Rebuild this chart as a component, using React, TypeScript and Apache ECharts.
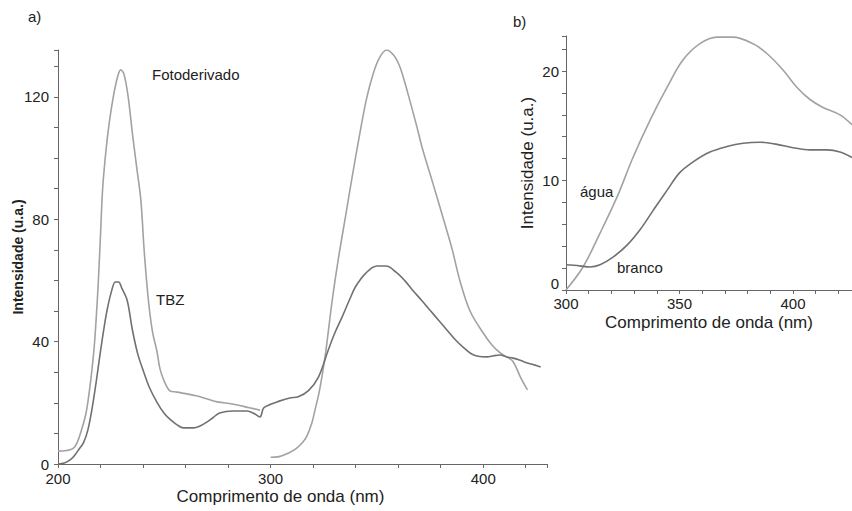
import React, { useEffect, useRef } from "react";
import * as echarts from "echarts";

// ---- Panel a) : TBZ and Fotoderivado (excitation + emission) ----
const fotoExcWl = [200, 204, 207, 209, 211, 213, 214, 215.5, 217, 218, 219, 220, 221, 222.5, 224, 226, 228, 229.5, 231, 233, 235, 237, 239, 240.5, 242.5, 244.5, 246.5, 248, 250, 252.5, 256, 260, 265, 270, 275, 282, 290, 295];
const fotoExcI = [4.2, 4.4, 5, 7, 11, 16, 20, 28, 38, 48, 60, 75, 90, 102, 111, 120, 126.5, 128.8, 127.5, 120, 108, 97, 86, 70, 53.6, 43, 37, 31, 27, 24, 23.5, 23, 22.3, 21.3, 20.3, 19.6, 18.4, 17.6];
const fotoEmWl = [300, 304, 308.5, 312, 315, 317, 319.4, 321, 322.7, 324.5, 326, 329, 332, 335.5, 338.4, 341.7, 345, 348, 351, 354.5, 358, 360.7, 363, 365.4, 368.5, 371.6, 376.3, 381, 385.3, 389, 393.8, 400, 404, 408, 411, 414, 417.5, 420.8];
const fotoEmI = [2.2, 2.4, 3.6, 5, 7, 9, 13.4, 18, 23, 30, 37, 53.6, 67.6, 82, 94, 107, 119, 127, 132.5, 135.3, 133.5, 130, 125, 119, 111, 102.6, 91.8, 80.7, 70.4, 60, 50, 42.8, 39, 36.3, 35, 33.5, 28.4, 24.2];

const tbzWl = [200, 203, 206, 208, 210, 212, 214, 216, 218, 220, 222, 223, 225, 227, 228.5, 230, 232.5, 235, 237.5, 240, 243, 246.7, 250, 253, 256, 259, 263.7, 267, 270, 273, 276, 282.5, 289, 292, 295, 296.7, 300, 303, 309, 313, 317.8, 322.5, 327, 330, 333.6, 337, 340, 344.8, 350, 354.3, 359, 363, 366.8, 371, 374.9, 379, 382.9, 387, 390.5, 394, 397, 401.9, 405, 408, 411, 414, 417, 420.8, 424, 427];
const tbzI = [0, 0.3, 1.5, 3, 5, 7, 11, 18, 27, 37, 46, 50, 56, 59.5, 59.5, 57.5, 53.6, 43.8, 36, 30.7, 25, 20, 16.5, 14.4, 12.8, 11.8, 11.8, 12.5, 13.7, 15.2, 16.7, 17.3, 17.3, 16.6, 15.4, 18.3, 19.5, 20.3, 21.6, 22, 24, 28.4, 37, 42.5, 48, 53.5, 58, 62.4, 64.7, 64.7, 62.7, 60, 56.8, 53.5, 50.3, 47, 43.8, 40.5, 38.2, 36.2, 35.3, 35, 35.4, 35.6, 35, 34.6, 34, 33, 32.4, 31.7];

// ---- Panel b) : água and branco ----
const aguaWl = [300, 307.5, 315, 322.5, 329.5, 337, 344.5, 351.5, 359, 366.5, 373.5, 382.4, 388.5, 395.6, 401.8, 407.5, 413, 420.7, 426];
const aguaI = [0, 2.1, 5.2, 8.5, 12.1, 15.5, 18.5, 21, 22.5, 23.1, 23.1, 22.5, 21.6, 20.1, 18.5, 17.4, 16.7, 16, 15.1];
const brancoWl = [300, 306, 310.5, 315, 320.7, 326.9, 332.6, 338.5, 344.5, 350, 356, 363.4, 370.9, 378, 385.5, 393, 400, 407.5, 415, 420.7, 426];
const brancoI = [2.3, 2.2, 2.1, 2.3, 3, 4.1, 5.5, 7.3, 9.1, 10.7, 11.7, 12.6, 13.1, 13.4, 13.5, 13.3, 13, 12.8, 12.8, 12.6, 12.1];

const pairs = (xs: number[], ys: number[]) => xs.map((x, i) => [x, ys[i]]);

const LIGHT = "#a2a2a2";
const DARK = "#717171";
const FONT = "Liberation Sans, Arial, sans-serif";

export default function App() {
  const ref = useRef<HTMLDivElement>(null);
  useEffect(() => {
    if (!ref.current) return;
    const chart = echarts.init(ref.current, undefined, { renderer: "svg" });
    const axisLine = { lineStyle: { color: "#666", width: 1 } };
    const axisTick = { length: 4, lineStyle: { color: "#666" } };
    const label = { color: "#222", fontSize: 15, fontFamily: FONT };
    const fotoData: any[] = [
      ...pairs(fotoExcWl, fotoExcI),
      [297.5, null],
      ...pairs(fotoEmWl, fotoEmI),
    ];
    const lineCommon = { type: "line", showSymbol: false, smooth: 0.35 };
    chart.setOption({
      animation: false,
      textStyle: { fontFamily: FONT },
      grid: [
        { left: 58, top: 50, width: 489, height: 414, outerBoundsMode: "none", containLabel: false },
        { left: 566, top: 36, width: 286, height: 254, outerBoundsMode: "none", containLabel: false },
      ],
      xAxis: [
        {
          type: "value", gridIndex: 0, min: 200, max: 430, interval: 20,
          axisLine, axisTick, splitLine: { show: false },
          axisLabel: { ...label, margin: 7, formatter: (v: number) => (v % 100 === 0 ? String(v) : "") },
          name: "Comprimento de onda (nm)", nameLocation: "middle", nameGap: 24, nameMoveOverlap: false,
          nameTextStyle: { color: "#222", fontSize: 17, fontFamily: FONT, padding: [0, 44, 0, 0] },
        },
        {
          type: "value", gridIndex: 1, min: 300, max: 426, interval: 10,
          axisLine, axisTick, splitLine: { show: false },
          axisLabel: { ...label, margin: 6, formatter: (v: number) => (v % 50 === 0 ? String(v) : "") },
          name: "Comprimento de onda (nm)", nameLocation: "middle", nameGap: 24, nameMoveOverlap: false,
          nameTextStyle: { color: "#222", fontSize: 17, fontFamily: FONT },
        },
      ],
      yAxis: [
        {
          type: "value", gridIndex: 0, min: 0, max: 135.3, interval: 10,
          axisLine: { show: true, ...axisLine }, axisTick: { show: true, ...axisTick }, splitLine: { show: false },
          axisLabel: { ...label, margin: 9, formatter: (v: number) => (v % 40 === 0 ? String(v) : "") },
          name: "Intensidade (u.a.)", nameLocation: "middle", nameGap: 33, nameMoveOverlap: false,
          nameTextStyle: { color: "#222", fontSize: 14, fontWeight: "bold", fontFamily: FONT },
        },
        {
          type: "value", gridIndex: 1, min: 0, max: 23.2, interval: 2,
          axisLine: { show: true, ...axisLine }, axisTick: { show: true, ...axisTick }, splitLine: { show: false },
          axisLabel: {
            ...label, margin: 7,
            formatter: (v: number) => (v === 0 ? "{z|0}" : v % 10 === 0 ? String(v) : ""),
            rich: { z: { color: "#222", fontSize: 15, fontFamily: FONT, padding: [0, 0, 14, 0] } },
          },
          name: "Intensidade (u.a.)", nameLocation: "middle", nameGap: 30, nameMoveOverlap: false,
          nameTextStyle: { color: "#222", fontSize: 17, fontFamily: FONT },
        },
      ],
      series: [
        { ...lineCommon, name: "Fotoderivado", xAxisIndex: 0, yAxisIndex: 0, data: fotoData, connectNulls: false, lineStyle: { color: LIGHT, width: 1.6 } },
        { ...lineCommon, name: "TBZ", xAxisIndex: 0, yAxisIndex: 0, data: pairs(tbzWl, tbzI), lineStyle: { color: DARK, width: 1.6 } },
        { ...lineCommon, name: "água", xAxisIndex: 1, yAxisIndex: 1, data: pairs(aguaWl, aguaI), lineStyle: { color: LIGHT, width: 1.6 } },
        { ...lineCommon, name: "branco", xAxisIndex: 1, yAxisIndex: 1, data: pairs(brancoWl, brancoI), lineStyle: { color: DARK, width: 1.6 } },
      ],
      graphic: [
        { type: "text", left: 28, top: 9, style: { text: "a)", fontSize: 15, fill: "#222", fontFamily: FONT } },
        { type: "text", left: 513, top: 14, style: { text: "b)", fontSize: 15, fill: "#222", fontFamily: FONT } },
        { type: "text", left: 152, top: 67, style: { text: "Fotoderivado", fontSize: 15, fill: "#222", fontFamily: FONT } },
        { type: "text", left: 156, top: 292, style: { text: "TBZ", fontSize: 15, fill: "#222", fontFamily: FONT } },
        { type: "text", left: 580, top: 184, style: { text: "água", fontSize: 15, fill: "#222", fontFamily: FONT } },
        { type: "text", left: 617, top: 260, style: { text: "branco", fontSize: 15, fill: "#222", fontFamily: FONT } },
      ],
    });
    return () => chart.dispose();
  }, []);
  return (
    <div
      ref={ref}
      style={{ position: "fixed", left: 0, top: 0, width: 852, height: 511, background: "#fff" }}
    />
  );
}
